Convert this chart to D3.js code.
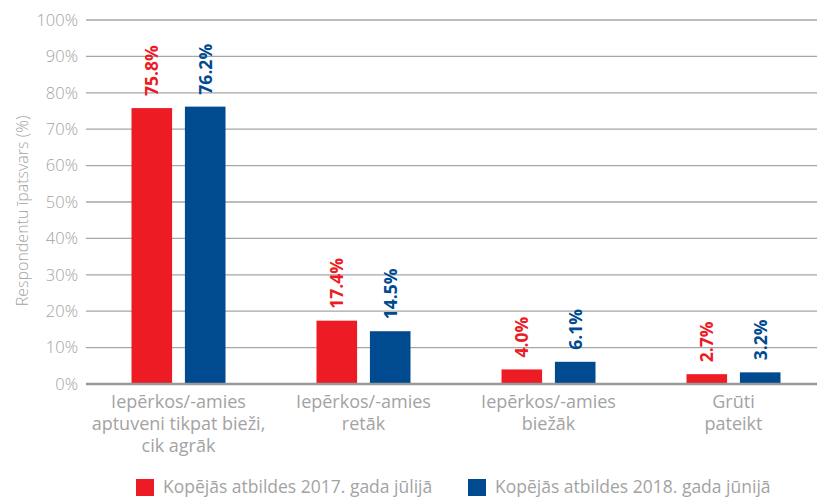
<!DOCTYPE html>
<html>
<head>
<meta charset="utf-8">
<script src="https://cdn.jsdelivr.net/npm/d3@7"></script>
<style>
  body { margin: 0; background: #fff; }
  text { font-family: "Open Sans", Lato, sans-serif; }
</style>
</head>
<body>
<div id="chart"></div>
<script>
// chart data
var categories = [
  ["Iepērkos/-amies", "aptuveni tikpat bieži,", "cik agrāk"],
  ["Iepērkos/-amies", "retāk"],
  ["Iepērkos/-amies", "biežāk"],
  ["Grūti", "pateikt"]
];
var seriesNames = ["Kopējās atbildes 2017. gada jūlijā", "Kopējās atbildes 2018. gada jūnijā"];
var values2017 = [75.8, 17.4, 4.0, 2.7];
var values2018 = [76.2, 14.5, 6.1, 3.2];
var yTicks = [0, 10, 20, 30, 40, 50, 60, 70, 80, 90, 100];
var colors = ["#ed1c24", "#004a8f"];

const width = 817, height = 498;

const svg = d3.select("#chart").append("svg")
  .attr("width", width)
  .attr("height", height);

const yScale = d3.scaleLinear().domain([0, 100]).range([384, 20]);

const xScale = d3.scaleBand()
  .domain(d3.range(categories.length))
  .range([86, 826])
  .padding(0);

const xInner = d3.scaleBand()
  .domain([0, 1])
  .range([45.5, 139.5])
  .paddingInner(0.24);

// gridlines
svg.append("g")
  .selectAll("line")
  .data(yTicks.filter(d => d > 0))
  .join("line")
  .attr("x1", 86)
  .attr("x2", width)
  .attr("y1", d => yScale(d))
  .attr("y2", d => yScale(d))
  .attr("stroke", "#a6a6a6")
  .attr("stroke-width", 1.3);

// y tick labels
const yAxis = d3.axisLeft(yScale)
  .tickValues(yTicks)
  .tickFormat(d => d + "%")
  .tickSize(0)
  .tickPadding(8);

svg.append("g")
  .attr("transform", "translate(86,0)")
  .call(yAxis)
  .call(g => g.select(".domain").remove())
  .selectAll("text")
  .attr("fill", "#a3a3a3")
  .style("font-size", "16.5px")
  .style("font-weight", 300)
  .style("font-family", "'Open Sans', sans-serif");

// y title
svg.append("text")
  .attr("transform", "translate(28,211) rotate(-90)")
  .attr("text-anchor", "middle")
  .attr("fill", "#a3a3a3")
  .style("font-size", "16px")
  .style("font-weight", 300)
  .text("Respondentu īpatsvars (%)");

// bars
const series = [values2017, values2018];
const groups = svg.append("g")
  .selectAll("g")
  .data(categories.map((c, i) => i))
  .join("g")
  .attr("transform", i => "translate(" + xScale(i) + ",0)");

groups.selectAll("rect")
  .data(i => series.map((s, k) => ({k: k, v: s[i]})))
  .join("rect")
  .attr("x", d => xInner(d.k))
  .attr("width", xInner.bandwidth())
  .attr("y", d => yScale(d.v))
  .attr("height", d => yScale(0) - yScale(d.v))
  .attr("fill", d => colors[d.k]);

groups.selectAll(".val")
  .data(i => series.map((s, k) => ({k: k, v: s[i]})))
  .join("text")
  .attr("class", "val")
  .attr("transform", d => "translate(" + (xInner(d.k) + xInner.bandwidth() / 2 + 6.5) + "," + (yScale(d.v) - 12) + ") rotate(-90)")
  .attr("fill", d => colors[d.k])
  .style("font-size", "17.5px")
  .style("font-weight", "bold")
  .text(d => d.v.toFixed(1) + "%");

// baseline
svg.append("line")
  .attr("x1", 86)
  .attr("x2", width)
  .attr("y1", yScale(0))
  .attr("y2", yScale(0))
  .attr("stroke", "#999")
  .attr("stroke-width", 2.5);

// category labels
groups.append("text")
  .attr("text-anchor", "middle")
  .attr("fill", "#a3a3a3")
  .style("font-size", "18px")
  .selectAll("tspan")
  .data(i => categories[i])
  .join("tspan")
  .attr("x", xScale.bandwidth() / 2)
  .attr("y", (d, j) => 408 + j * 22)
  .text(d => d);

// legend
const legendX = [136, 468];
const legend = svg.append("g")
  .selectAll("g")
  .data(seriesNames)
  .join("g")
  .attr("transform", (d, i) => "translate(" + legendX[i] + ",479)");

legend.append("rect")
  .attr("width", 18)
  .attr("height", 17)
  .attr("fill", (d, i) => colors[i]);

legend.append("text")
  .attr("x", 27)
  .attr("y", 14)
  .attr("fill", "#a3a3a3")
  .style("font-size", "17.5px")
  .text(d => d);
</script>
</body>
</html>
